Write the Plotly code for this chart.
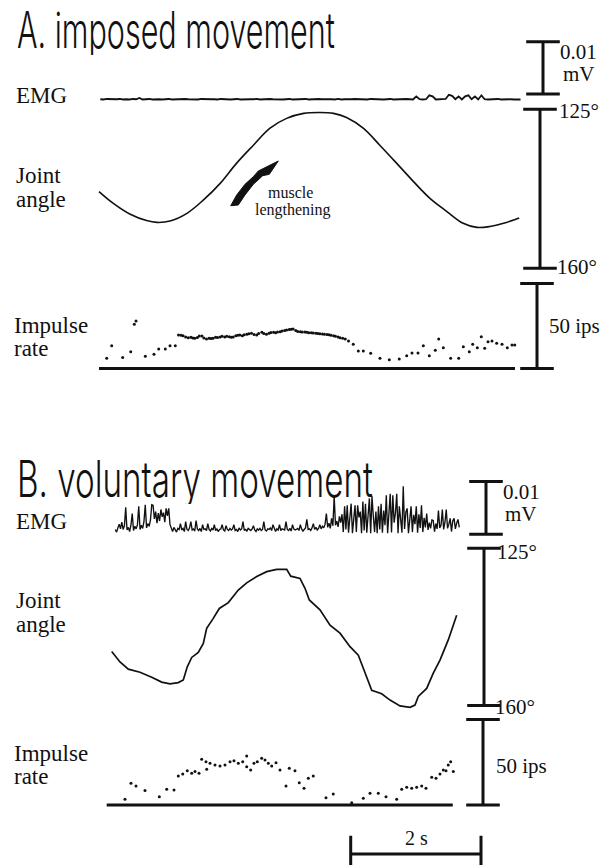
import plotly.graph_objects as go

W, H = 611, 865

# ---------------- Panel A: imposed movement ----------------
# EMG (µV), uniformly sampled
emg_a_t0, emg_a_dt = 0.02, 0.05
emg_a_uv = [
    0.05, 0.0, 0.1, 0.05, 0.0, 0.05, 0.1, 0.0, 0.05, 0.0, 0.1, 0.05, 0.3, 0.0, 0.05, 0.1, 0.0, 0.05, 0.05, 0.0,
    0.05, 0.1, 0.0, 0.05, 0.0, 0.05, 0.1, 0.05, 0.0, 0.05, 0.0, 0.1, 0.05, 0.0, 0.05, 0.05, 0.0, 0.1, 0.05, 0.0,
    0.0, 0.05, 0.1, 0.0, 0.05, 0.0, 0.05, 0.05, 0.1, 0.0, 0.05, 0.0, 0.1, 0.05, 0.0, 0.05, 0.0, 0.05, 0.1, 0.0,
    0.05, 0.0, 0.05, 0.1, 0.0, 0.05, 0.0, 0.1, 0.05, 0.0, 0.05, 0.05, 0.0, 0.1, 0.0, 0.05, 0.0, 0.05, 0.1, 0.05,
    0.0, 0.05, 0.0, 0.1, 0.05, 0.0, 0.05, 0.0, 0.05, 0.1, 0.0, 0.05, 0.0, 0.05, 0.1, 0.05, 0.0, 0.6, 0.05, 0.0,
    0.05, 0.8, 0.6, 0.0, 0.05, 0.0, 0.1, 0.9, 0.7, 0.05, 0.6, 0.0, 0.6, 0.8, 0.05, 0.6, 0.0, 0.8, 0.05, 0.0,
    0.05, 0.0, 0.1, 0.0, 0.05, 0.0, 0.05, 0.0, 0.05, 0.0,
]

# Joint angle (degrees) vs time (s)
angle_a_t = [0.00, 0.22, 0.48, 0.73, 0.89, 1.09, 1.35, 1.60, 1.86, 2.11, 2.37, 2.62, 2.88, 3.14,
             3.39, 3.60, 3.80, 4.06, 4.31, 4.57, 4.82, 5.08, 5.34, 5.59, 5.80, 6.00, 6.21, 6.45]
angle_a_deg = [143.1, 145.7, 148.1, 149.5, 149.9, 149.6, 147.9, 145.0, 141.3, 136.9, 132.9, 129.2,
               127.0, 125.9, 125.7, 125.9, 126.8, 129.2, 132.9, 136.9, 140.8, 144.6, 147.5, 150.1,
               151.0, 150.8, 150.1, 148.9]

# Spindle afferent impulse rate (impulses/s)
rate_a_t = [0.118, 0.195, 0.364, 0.487, 0.542, 0.568, 0.711, 0.844, 0.916, 1.018, 1.090, 1.171,
            1.22, 1.26, 1.29, 1.33, 1.37, 1.41, 1.44, 1.47, 1.51, 1.54,
            1.58, 1.61, 1.65, 1.69, 1.72, 1.75, 1.79, 1.82, 1.86, 1.89,
            1.93, 1.96, 2.00, 2.03, 2.06, 2.10, 2.13, 2.16, 2.20, 2.23,
            2.27, 2.30, 2.34, 2.38, 2.42, 2.45, 2.50, 2.53, 2.57, 2.61,
            2.64, 2.68, 2.71, 2.74, 2.78, 2.81, 2.85, 2.88, 2.92, 2.95,
            2.98, 3.02, 3.05, 3.09, 3.12, 3.16, 3.19, 3.22, 3.26, 3.29,
            3.33, 3.36, 3.39, 3.43, 3.46, 3.50, 3.53, 3.56, 3.60, 3.63,
            3.67, 3.70, 3.74, 3.78, 3.83,
            3.903, 3.980, 4.057, 4.170, 4.313, 4.456, 4.609, 4.723, 4.804, 4.896,
            4.978, 5.070, 5.162, 5.214, 5.285, 5.398, 5.521, 5.592, 5.684, 5.736,
            5.807, 5.868, 5.920, 5.971, 6.032, 6.104, 6.186, 6.267, 6.339, 6.381]
rate_a_ips = [6.0, 13.4, 6.4, 9.9, 26.0, 27.9, 7.2, 8.4, 11.5, 11.5, 13.4, 13.4,
              19.7, 19.5, 19.3, 18.6, 18.1, 18.4, 17.9, 17.8, 18.3, 19.1,
              19.1, 17.9, 17.4, 17.8, 17.6, 17.8, 18.4, 18.2, 18.5, 18.9,
              18.6, 18.9, 18.7, 18.4, 18.5, 19.2, 19.5, 19.7, 19.3, 19.9,
              20.1, 20.4, 20.7, 20.0, 19.7, 20.6, 21.3, 20.6, 20.1, 20.8,
              21.2, 21.3, 21.0, 21.4, 21.6, 22.0, 22.3, 22.6, 22.9, 23.1,
              23.2, 22.4, 21.8, 21.6, 21.5, 21.4, 21.3, 21.1, 21.0, 20.9,
              20.7, 20.6, 20.5, 20.3, 20.2, 20.0, 19.8, 19.5, 19.3, 18.9,
              18.5, 18.1, 17.8, 17.4, 16.2,
              14.2, 10.3, 10.3, 8.9, 6.0, 5.2, 5.6, 7.5, 9.1, 9.1,
              13.4, 7.5, 10.7, 17.4, 12.2, 6.0, 6.0, 12.8, 9.9, 14.2,
              12.2, 18.7, 11.9, 15.8, 16.2, 14.8, 14.2, 12.2, 13.8, 13.8]
rate_a_span = [0.0, 6.385]

# ---------------- Panel B: voluntary movement ----------------
emg_b_t0, emg_b_dt = 0.25, 0.02
emg_b_uv = [
    0.2, -0.3, 0.5, 1.2, 0.3, 1.6, 0.2, 0.9, 4.4, 0.1,
    0.6, -0.2, 1.0, 3.2, 0.0, 0.8, 0.3, 1.1, 4.6, 0.2,
    1.0, 0.4, 1.7, 4.9, 0.5, 1.3, 0.8, 2.0, 4.9, 4.8,
    2.2, 3.6, 1.4, 3.3, 1.8, 4.0, 2.6, 3.4, 1.6, 4.2,
    2.8, 4.2, 1.1, 0.3, -0.2, 0.6, 0.1, -0.3, 0.4, 0.2,
    1.3, 0.1, 0.4, -0.2, 1.7, 0.2, 0.0, 0.5, 1.7, 0.1,
    0.3, -0.1, 1.9, 0.3, 0.0, 0.4, -0.2, 1.1, 0.2, 0.3,
    0.0, 1.3, 0.2, -0.1, 0.4, 0.1, 1.1, 0.0, 0.3, -0.2,
    0.2, 0.3, 1.1, 0.1, -0.1, 0.9, 0.2, 0.0, 0.4, 0.1,
    0.3, 1.1, 0.0, 0.2, -0.2, 0.5, 0.1, 0.3, 1.7, 0.0,
    0.2, -0.1, 0.4, 0.1, 0.0, 0.3, 0.9, 0.1, -0.2, 0.3,
    0.1, 0.4, 0.0, 0.2, 1.7, 0.1, -0.1, 0.3, 0.2, 0.5,
    0.0, 1.1, 0.2, -0.2, 0.3, 0.1, 1.1, 0.0, 0.3, 0.2,
    0.1, 1.7, 0.2, 0.0, 0.4, -0.1, 1.1, 0.3, 0.1, 0.2,
    0.4, 0.0, 1.1, 0.3, -0.1, 0.2, 0.5, 2.1, 0.2, 0.3,
    0.0, 0.5, 1.3, 0.2, 0.6, 0.1, 0.4, 1.1, 0.3, 0.8,
    0.5, 1.2, 3.2, 0.6, 1.4, 0.4, 2.3, 0.9, 6.5, 1.0,
    1.8, 0.7, 2.7, 1.5, 3.1, -0.3, 4.6, 0.2, 4.8, -0.4,
    3.4, 5.1, -0.5, 3.0, 4.8, -0.3, 4.8, 2.5, 3.6, -0.5,
    5.5, 0.0, 5.1, -0.4, 3.4, 6.1, -0.5, 6.5, 2.8, -0.3,
    3.6, -0.5, 4.6, 0.2, 5.1, -0.4, 3.8, 1.0, 6.7, -0.5,
    3.2, 7.0, -0.4, 6.7, 1.5, 3.3, 7.0, -0.5, 4.6, 2.1,
    -0.4, 8.4, 0.3, 3.5, 4.2, -0.5, 2.6, 4.6, -0.3, 3.0,
    1.2, 4.6, -0.4, 3.1, 0.5, 4.8, -0.3, 2.4, 0.6, 3.2,
    0.1, 1.5, 0.4, 2.0, 1.9, -0.2, 1.3, 0.3, 3.8, 0.5,
    1.0, 4.0, 0.2, 1.6, 4.0, 0.4, 1.2, 2.3, -0.2, 1.8,
    2.3, 0.3, 1.4, 2.1, 0.6,
]

angle_b_t = [0.195, 0.322, 0.450, 0.629, 0.809, 0.962, 1.090, 1.217, 1.294, 1.355, 1.423, 1.524,
             1.601, 1.653, 1.754, 1.847, 1.985, 2.138, 2.267, 2.421, 2.574, 2.728, 2.881, 2.943,
             3.085, 3.162, 3.228, 3.392, 3.546, 3.699, 3.853, 3.980, 4.057, 4.186, 4.339, 4.467,
             4.620, 4.774, 4.850, 4.901, 5.030, 5.131, 5.234, 5.361, 5.490]
angle_b_deg = [148.0, 150.3, 151.9, 152.6, 153.7, 154.8, 155.2, 154.9, 154.3, 151.4, 149.3, 148.2,
               146.2, 142.8, 140.6, 138.4, 137.1, 134.3, 132.7, 131.3, 130.2, 129.7, 129.7, 131.2,
               131.7, 133.9, 136.5, 138.7, 142.1, 143.9, 146.9, 148.8, 151.7, 156.6, 157.4, 158.8,
               160.1, 160.4, 159.9, 158.0, 156.2, 152.8, 149.9, 145.4, 139.9]

rate_b_t = [0.399, 0.491, 0.568, 0.706, 0.926, 1.039, 1.151, 1.217, 1.285, 1.355, 1.423, 1.474,
            1.535, 1.576, 1.642, 1.653, 1.704, 1.780, 1.857, 1.934, 2.011, 2.072, 2.138, 2.206,
            2.267, 2.267, 2.328, 2.379, 2.430, 2.497, 2.548, 2.599, 2.651, 2.717, 2.778, 2.870,
            2.921, 3.008, 3.074, 3.147, 3.213, 3.289, 3.484, 3.596, 3.879, 4.057, 4.160, 4.287,
            4.405, 4.569, 4.646, 4.723, 4.800, 4.876, 4.953, 5.019, 5.107, 5.173, 5.234, 5.285,
            5.326, 5.361, 5.398, 5.438]
rate_b_ips = [3.3, 12.7, 11.1, 8.4, 4.8, 9.2, 8.8, 16.9, 18.1, 20.0, 18.5, 19.5,
              18.5, 26.7, 25.3, 20.9, 24.4, 23.4, 22.8, 23.4, 25.3, 25.9, 24.4, 25.3,
              28.6, 22.4, 20.4, 24.4, 25.3, 27.3, 26.3, 24.4, 22.8, 24.7, 20.4, 11.1,
              21.4, 20.0, 13.0, 9.8, 15.6, 16.9, 4.3, 6.4, 1.3, 3.9, 6.8, 6.8,
              4.8, 3.3, 9.2, 10.3, 9.8, 10.3, 11.1, 9.8, 16.2, 15.6, 18.1, 20.4,
              20.0, 23.4, 25.3, 19.5]
rate_b_span = [0.118, 5.43]

# calibration bars
emg_cal_uv = 10.0          # 0.01 mV
angle_cal_deg = [125, 160]
rate_cal_ips = [0, 50]
time_cal_s = 2.0

# ---------------- geometry helpers ----------------
PX_PER_S = 65.15
T0_PX = 99.0


def y_range(v_ref, px_ref, px_per_unit, down=False):
    """Axis range placing value v_ref at pixel row px_ref."""
    if down:
        return [v_ref + (H - px_ref) / px_per_unit, v_ref - px_ref / px_per_unit]
    return [v_ref - (H - px_ref) / px_per_unit, v_ref + px_ref / px_per_unit]


def t_at(px):
    return (px - T0_PX) / PX_PER_S


def sampled(t0, dt, vals):
    return [t0 + dt * i for i in range(len(vals))], vals


fig = go.Figure()
BLACK = "#111111"


def line(x, y, ax, width=1.5, shape="linear"):
    fig.add_trace(go.Scatter(x=x, y=y, yaxis=ax, mode="lines",
                             line=dict(color=BLACK, width=width, shape=shape),
                             hoverinfo="skip"))


def dots(x, y, ax, size=3):
    fig.add_trace(go.Scatter(x=x, y=y, yaxis=ax, mode="markers",
                             marker=dict(color=BLACK, size=size), hoverinfo="skip"))


def vbar(t, lo, hi, ax, cap=24):
    fig.add_trace(go.Scatter(x=[t, t], y=[lo, hi], yaxis=ax, mode="lines+markers",
                             line=dict(color=BLACK, width=3),
                             marker=dict(symbol="line-ew", size=cap,
                                         line=dict(color=BLACK, width=3)),
                             hoverinfo="skip"))


# Panel A traces
ta, va = sampled(emg_a_t0, emg_a_dt, emg_a_uv)
line(ta, va, "y", width=1.8)
line(angle_a_t, angle_a_deg, "y2", width=1.6, shape="spline")
line(rate_a_span, [0, 0], "y3", width=3)
dots(rate_a_t, rate_a_ips, "y3")

# Panel B traces
tb, vb = sampled(emg_b_t0, emg_b_dt, emg_b_uv)
line(tb, vb, "y4", width=1.35)
line(angle_b_t, angle_b_deg, "y5", width=1.7)
line(rate_b_span, [0, 0], "y6", width=3)
dots(rate_b_t, rate_b_ips, "y6")

# calibration bars, panel A
vbar(t_at(543), 1.05, 1.05 + emg_cal_uv, "y")
vbar(t_at(540), angle_cal_deg[0], angle_cal_deg[1], "y2")
vbar(t_at(537), rate_cal_ips[0], rate_cal_ips[1], "y3")
# calibration bars, panel B
vbar(t_at(486), -0.7, -0.7 + emg_cal_uv, "y4")
vbar(t_at(484), angle_cal_deg[0], angle_cal_deg[1], "y5")
vbar(t_at(483), rate_cal_ips[0], rate_cal_ips[1], "y6")
# time bar
t_start = t_at(350.7)
fig.add_trace(go.Scatter(x=[t_start, t_start + time_cal_s], y=[-28.6, -28.6], yaxis="y6",
                         mode="lines+markers", line=dict(color=BLACK, width=3),
                         marker=dict(symbol="line-ns", size=26, line=dict(color=BLACK, width=3)),
                         hoverinfo="skip"))

# ---------------- text ----------------
SERIF = "Liberation Serif, Times New Roman, serif"
TITLE_FONT = "Inter, Liberation Sans, Arial, sans-serif"
annotations = []


def label(text, x_px, y_px, size=23, family=SERIF, xanchor="left", align="center",
          weight=None, box_h=None):
    font = dict(family=family, size=size, color=BLACK)
    if weight:
        font["weight"] = weight
    ann = dict(text=text, x=x_px / W, y=1 - y_px / H, xref="paper", yref="paper",
               xanchor=xanchor, yanchor="middle", showarrow=False, align=align, font=font)
    if box_h:
        ann["height"] = box_h
    annotations.append(ann)


# panel headings (condensed horizontally after rendering, see post script)
label("A. imposed movement", 15, 30, size=50, family=TITLE_FONT, align="left",
      weight=300, box_h=50)
label("B. voluntary movement", 15, 479, size=50, family=TITLE_FONT, align="left",
      weight=300, box_h=50)

label("EMG", 14, 96)
label("Joint", 14, 175)
label("angle", 14, 199)
label("Impulse", 12, 325)
label("rate", 12, 348)
label("EMG", 14, 521)
label("Joint", 14, 600)
label("angle", 14, 624)
label("Impulse", 12, 753)
label("rate", 12, 776)

label("muscle", 290, 193, size=16, xanchor="center")
label("lengthening", 292.7, 210, size=16, xanchor="center")

label("0.01", 578.5, 52, size=21, xanchor="center")
label("mV", 578.5, 74, size=21, xanchor="center")
label("125°", 557, 111, size=21)
label("160°", 555, 267, size=21)
label("50 ips", 547, 326, size=21)

label("0.01", 521, 492, size=21, xanchor="center")
label("mV", 521, 514, size=21, xanchor="center")
label("125°", 495, 552, size=21)
label("160°", 493, 707, size=21)
label("50 ips", 494, 766, size=21)
label("2 s", 416, 838, size=20, xanchor="center")

# muscle lengthening arrow (filled wedge)
arrow_px = [(230.7, 205.7), (236.7, 195), (245, 184.3), (253.3, 176.7), (258.3, 171),
            (278.3, 161), (269.3, 174.3), (262.7, 175.7), (253.3, 184.3), (245, 195),
            (238.3, 205)]
path = "M " + " L ".join(f"{x / W:.5f},{1 - y / H:.5f}" for x, y in arrow_px) + " Z"

axis_off = dict(visible=False, showgrid=False, zeroline=False, fixedrange=True)
fig.update_layout(
    width=W, height=H, margin=dict(l=0, r=0, t=0, b=0),
    paper_bgcolor="white", plot_bgcolor="white", showlegend=False,
    xaxis=dict(range=[t_at(0), t_at(W)], domain=[0, 1], **axis_off),
    yaxis=dict(range=y_range(0, 99.5, 5.23), domain=[0, 1], **axis_off),
    yaxis2=dict(range=y_range(125, 109.3, 4.543, down=True), overlaying="y", **axis_off),
    yaxis3=dict(range=y_range(0, 368.5, 1.7), overlaying="y", **axis_off),
    yaxis4=dict(range=y_range(0, 530.5, 5.26), overlaying="y", **axis_off),
    yaxis5=dict(range=y_range(125, 548.3, 4.491, down=True), overlaying="y", **axis_off),
    yaxis6=dict(range=y_range(0, 805, 1.712), overlaying="y", **axis_off),
    annotations=annotations,
    shapes=[dict(type="path", path=path, xref="paper", yref="paper",
                 fillcolor=BLACK, line=dict(color=BLACK, width=1))],
)

# condensed look for the two panel headings: scale each heading horizontally
# about its left edge so that it spans the given width in pixels
squeeze_js = """
var gd = document.getElementById('{plot_id}');
function squeezeHeadings() {
  var widths = {'A. imposed movement': 318, 'B. voluntary movement': 356};
  gd.querySelectorAll('text.annotation-text').forEach(function (t) {
    var w = widths[t.textContent];
    if (!w) return;
    var x0 = parseFloat(t.getAttribute('x')) || 0;
    var natural = t.getComputedTextLength();
    if (!natural) return;
    var s = w / natural;
    t.setAttribute('transform',
      'translate(' + x0 + ',0) scale(' + s + ',1) translate(' + (-x0) + ',0)');
  });
}
squeezeHeadings();
gd.on('plotly_afterplot', squeezeHeadings);
"""

fig.write_html("out.html", post_script=squeeze_js)
